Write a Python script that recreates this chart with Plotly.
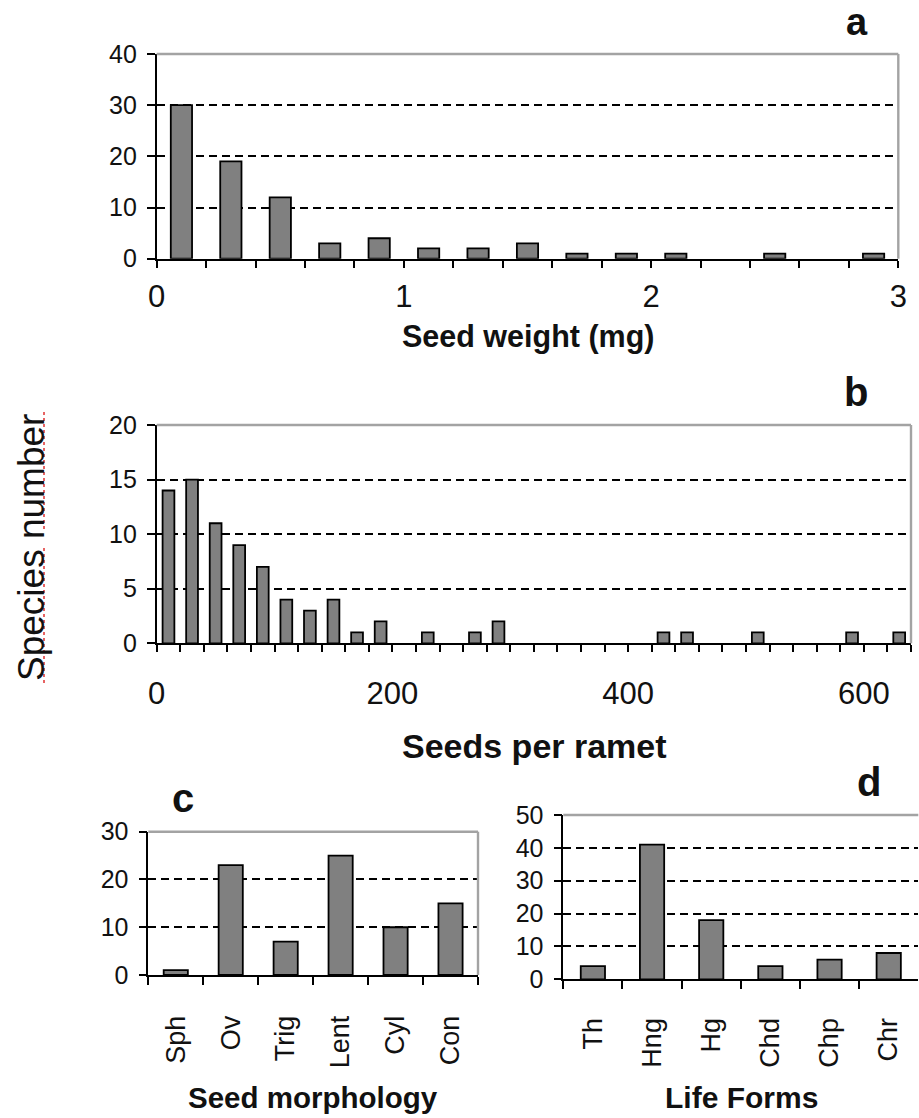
import plotly.graph_objects as go

W, H = 919, 1118

# ---------------- data ----------------
# Panel a: seed weight histogram (bin midpoints, mg)
weight_bins = [0.1, 0.3, 0.5, 0.7, 0.9, 1.1, 1.3, 1.5, 1.7, 1.9, 2.1, 2.3, 2.5, 2.7, 2.9]
weight_counts = [30, 19, 12, 3, 4, 2, 2, 3, 1, 1, 1, 0, 1, 0, 1]
weight_ticks = [0, 1, 2, 3]
weight_yticks = [0, 10, 20, 30, 40]

# Panel b: seeds per ramet histogram (bin midpoints)
seed_bins = [10, 30, 50, 70, 90, 110, 130, 150, 170, 190, 210, 230, 250, 270, 290, 310,
             330, 350, 370, 390, 410, 430, 450, 470, 490, 510, 530, 550, 570, 590, 610, 630]
seed_counts = [14, 15, 11, 9, 7, 4, 3, 4, 1, 2, 0, 1, 0, 1, 2, 0,
               0, 0, 0, 0, 0, 1, 1, 0, 0, 1, 0, 0, 0, 1, 0, 1]
seed_ticks = [0, 200, 400, 600]
seed_yticks = [0, 5, 10, 15, 20]

# Panel c: seed morphology
morph_cats = ["Sph", "Ov", "Trig", "Lent", "Cyl", "Con"]
morph_counts = [1, 23, 7, 25, 10, 15]
morph_yticks = [0, 10, 20, 30]

# Panel d: life forms
life_cats = ["Th", "Hng", "Hg", "Chd", "Chp", "Chr"]
life_counts = [4, 41, 18, 4, 6, 8]
life_yticks = [0, 10, 20, 30, 40, 50]

# ---------------- helpers ----------------
def px(x):
    return x / W

def py(y):
    return 1 - y / H

FONT = "Liberation Sans, Arial, sans-serif"
TXT = "#111111"
BAR = "#808080"

def nonzero(xs, ys):
    pairs = [(x, y) for x, y in zip(xs, ys) if y > 0]
    return [p[0] for p in pairs], [p[1] for p in pairs]

fig = go.Figure()

bar_style = dict(marker=dict(color=BAR, line=dict(color="black", width=1.8)),
                 showlegend=False, hoverinfo="x+y")

ax_, ay_ = nonzero(weight_bins, weight_counts)
bx_, by_ = nonzero(seed_bins, seed_counts)
fig.add_trace(go.Bar(x=ax_, y=ay_, width=0.086, xaxis="x", yaxis="y", **bar_style))
fig.add_trace(go.Bar(x=bx_, y=by_, width=10, xaxis="x2", yaxis="y2", **bar_style))
fig.add_trace(go.Bar(x=morph_cats, y=morph_counts, width=0.44, xaxis="x3", yaxis="y3", **bar_style))
fig.add_trace(go.Bar(x=life_cats, y=life_counts, width=0.41, xaxis="x4", yaxis="y4", **bar_style))


def yax(domain, anchor, rng, tickvals):
    return dict(domain=domain, anchor=anchor, range=rng, tickvals=tickvals,
                showline=True, linecolor="black", linewidth=1.6,
                ticks="outside", ticklen=8, tickcolor="black", tickwidth=1.6,
                showgrid=True, gridcolor="black", griddash="8px,5px", gridwidth=1.6,
                zeroline=False, tickfont=dict(family=FONT, size=25, color=TXT),
                ticklabelstandoff=5, fixedrange=True, automargin=False)


def xnum(domain, anchor, rng, tickvals, minor_dtick, size, standoff):
    return dict(domain=domain, anchor=anchor, range=rng, tickvals=tickvals,
                showline=True, linecolor="black", linewidth=2,
                ticks="outside", ticklen=7, tickcolor="black", tickwidth=1.6,
                minor=dict(dtick=minor_dtick, tick0=0, ticks="outside", ticklen=7,
                           tickcolor="black", tickwidth=1.6, showgrid=False),
                showgrid=False, zeroline=False,
                tickfont=dict(family=FONT, size=size, color=TXT),
                ticklabelstandoff=standoff, fixedrange=True, automargin=False)


def xcat(domain, anchor, cats, standoff):
    return dict(domain=domain, anchor=anchor, type="category", categoryorder="array",
                categoryarray=cats, range=[-0.5, len(cats) - 0.5],
                showline=True, linecolor="black", linewidth=2,
                ticks="outside", ticklen=8, tickcolor="black", tickwidth=1.6,
                tickson="boundaries", tickangle=-90,
                showgrid=False, zeroline=False,
                tickfont=dict(family=FONT, size=27, color=TXT),
                ticklabelstandoff=standoff, fixedrange=True, automargin=False)


# domains (pixel measurements of the reference)
a_x = [px(156.7), px(898.3)]; a_y = [py(258.7), py(54)]
b_x = [px(156.7), px(911)];   b_y = [py(643.3), py(425)]
c_x = [px(148.3), px(478)];   c_y = [py(975), py(831.7)]
d_x = [px(563.3), px(918.3)]; d_y = [py(979.3), py(815)]

fig.update_layout(
    width=W, height=H, autosize=False,
    margin=dict(l=0, r=0, t=0, b=0, pad=0, autoexpand=False),
    paper_bgcolor="white", plot_bgcolor="white",
    bargap=0.5,
    xaxis=xnum(a_x, "y", [0, 3], weight_ticks, 0.2, 31, 2),
    yaxis=yax(a_y, "x", [0, 40], weight_yticks),
    xaxis2=xnum(b_x, "y2", [0, 640], seed_ticks, 20, 31, 14),
    yaxis2=yax(b_y, "x2", [0, 20], seed_yticks),
    xaxis3=xcat(c_x, "y3", morph_cats, 28),
    yaxis3=yax(c_y, "x3", [0, 30], morph_yticks),
    xaxis4=xcat(d_x, "y4", life_cats, 26),
    yaxis4=yax(d_y, "x4", [0, 50], life_yticks),
)

# gray plot-area borders (top and right)
shapes = []
for xr, yr, right in [("x", "y", True), ("x2", "y2", True), ("x3", "y3", True), ("x4", "y4", False)]:
    shapes.append(dict(type="line", xref=f"{xr} domain", yref=f"{yr} domain",
                       x0=0, x1=1, y0=1, y1=1, line=dict(color="#a3a3a3", width=2.4)))
    if right:
        shapes.append(dict(type="line", xref=f"{xr} domain", yref=f"{yr} domain",
                           x0=1, x1=1, y0=0, y1=1, line=dict(color="#a3a3a3", width=2.4)))

# spell-check squiggles under the rotated y label
for y0, y1 in [(412, 530), (548, 683)]:
    shapes.append(dict(type="line", xref="paper", yref="paper",
                       x0=px(44), x1=px(44), y0=py(y0), y1=py(y1),
                       line=dict(color="#e03030", width=1.5, dash="dot")))
fig.update_layout(shapes=shapes)

ann = []
def text(x, y, s, size, bold=False, angle=0, yanchor="middle"):
    ann.append(dict(x=px(x), y=py(y), xref="paper", yref="paper", text=f"<b>{s}</b>" if bold else s,
                    showarrow=False, xanchor="center", yanchor=yanchor, textangle=angle,
                    borderpad=0, font=dict(family=FONT, size=size, color=TXT)))

text(528, 337, "Seed weight (mg)", 30.5, bold=True)
text(534, 746, "Seeds per ramet", 34, bold=True)
text(313, 1097, "Seed morphology", 29.5, bold=True)
text(741, 1097, "Life Forms", 30, bold=True)

text(857, 0.5, "a", 38, bold=True, yanchor="top")
text(856, 392, "b", 40, bold=True)
text(183, 798, "c", 40, bold=True)
text(869, 782, "d", 40, bold=True)

text(31, 548, "Species number", 37, angle=-90)

fig.update_layout(annotations=ann)

fig.write_html("out.html")
